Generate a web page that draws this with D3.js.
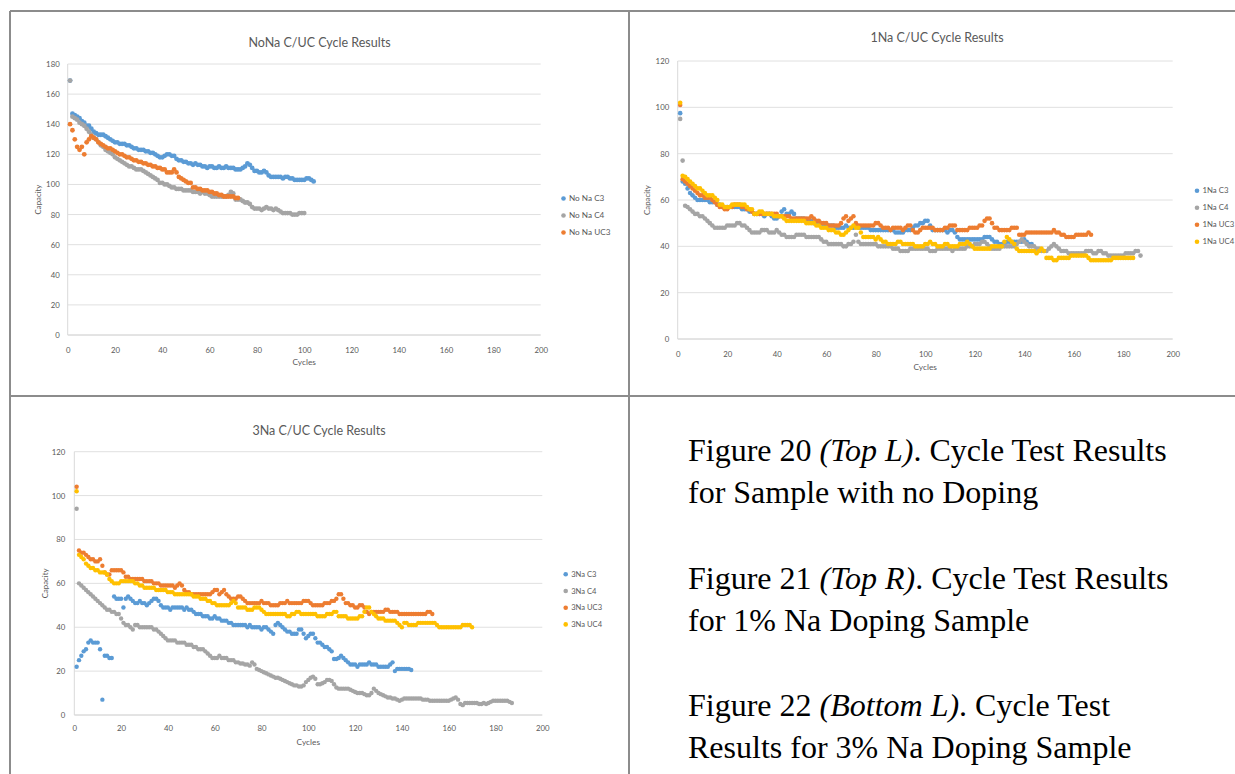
<!DOCTYPE html>
<html lang="en">
<head>
<meta charset="UTF-8">
<title>Cycle Test Results</title>
<script src="https://d3js.org/d3.v7.min.js"></script>
<style>
  body { margin: 0; background: #fff; }
  svg { display: block; }
  .ct { font-family: Lato, "Open Sans", sans-serif; fill: #595959; }
  .caption { font-family: "Liberation Serif", "Times New Roman", serif; font-size: 32px; fill: #000; }
</style>
</head>
<body>
<script>
// tick labels
var cycleTicks = [0, 20, 40, 60, 80, 100, 120, 140, 160, 180, 200]
var noNaTicks = [0, 20, 40, 60, 80, 100, 120, 140, 160, 180]
var naTicks = [0, 20, 40, 60, 80, 100, 120]

// capacity per cycle, cycle 1 first
var noNaC3 = [169,147,146,145,144,142,141,139,139,137,135,134,133,133,133,132,131,130,129,128,128,127,127,127,126,126,125,124,124,123,
  123,123,122,122,121,121,120,119,118,118,119,120,120,119,119,117,116,116,115,115,114,114,113,114,113,113,112,112,111,112,
  112,111,111,112,111,111,112,111,111,111,110,110,110,111,112,114,113,111,109,109,108,108,109,108,106,105,105,105,105,105,
  104,105,105,104,104,103,103,103,103,103,104,104,103,102]
var noNaC4 = [169,145,144,143,141,140,139,137,135,133,131,130,128,126,125,123,122,121,120,118,117,116,115,114,113,112,112,111,110,110,
  110,109,108,107,106,105,104,103,101,101,100,100,99,98,98,97,97,97,96,96,96,96,95,95,95,94,95,94,94,93,
  92,92,92,92,92,92,92,93,95,94,90,90,90,89,88,88,87,85,84,84,84,83,84,85,84,84,83,84,83,82,
  81,81,81,81,80,80,80,81,81,81]
var noNaUC3 = [140,136,130,125,123,125,120,128,130,132,131,130,128,127,126,125,124,124,123,122,121,120,120,119,118,118,117,116,116,115,
  115,114,114,113,113,112,112,111,111,110,110,108,108,108,110,108,105,104,103,102,101,101,98,98,97,97,96,96,96,95,
  95,94,94,93,93,92,92,92,92,92,91,91]

var oneNaC3 = [97.5,68,67,65,63,62,61,60,60,60,60,60,59,59,59,58,58,57,57,57,57,57,57,57,57,56,56,56,55,55,
  54,54,54,54,53,54,54,53,52,52,53,55,56,54,54,55,54,52,52,52,52,51,51,51,50,50,50,50,49,49,
  49,49,49,48,48,48,48,49,48,48,48,49,48,48,48,48,48,47,47,47,47,47,47,47,47,47,47,46,46,46,
  46,47,47,47,48,49,49,50,50,51,51,49,47,47,47,47,47,47,46,47,47,46,44,43,43,43,43,43,43,43,
  43,43,43,44,44,44,43,42,42,41,41,41,42,42,42,42,42,42,42,43,42,41,41]
var oneNaC4 = [95,77,57.5,57,56,55,54,54,53,53,52,51,50,49,48,48,48,48,48,49,49,49,49,50,50,49,49,48,47,46,
  46,46,46,47,47,47,46,46,46,47,46,45,45,44,44,44,44,45,45,45,45,44,44,44,44,44,44,43,42,42,
  41,41,41,41,41,41,40,40,41,41,42,45,42,41,41,41,41,41,41,41,40,40,40,40,40,40,39,39,39,38,
  38,38,38,39,39,39,39,39,39,39,39,38,38,38,39,39,39,39,39,39,38,39,39,39,39,39,40,40,40,41,
  41,41,42,42,41,40,39,39,39,39,40,40,40,40,40,40,41,42,43,42,41,40,40,40,39,39,38,38,38,39,
  40,41,40,39,38,38,38,37,37,37,37,37,37,37,38,38,38,37,37,38,38,37,37,36,36,36,36,36,36,36,
  37,37,37,37,38,38,36]
var oneNaUC3 = [101,69,68,67,66,65,64,63,62,62,61,61,61,60,59,58,57,57,56,56,57,57,58,58,58,57,57,56,56,55,
  54,54,54,54,54,54,54,54,54,54,53,53,53,53,53,52,52,52,52,52,52,52,52,53,52,51,51,50,50,50,
  49,49,49,49,49,50,52,53,51,52,53,50,49,49,49,49,49,49,49,50,50,49,48,48,48,47,48,48,48,48,
  47,48,49,49,47,46,46,47,48,48,48,48,48,47,47,47,47,48,48,49,49,49,47,47,47,47,47,48,48,48,
  48,49,49,51,52,52,50,48,48,47,47,47,47,47,48,48,48,45,45,45,46,46,46,46,46,46,46,46,46,46,
  46,47,46,46,45,45,44,44,44,44,45,45,45,45,45,46,45]
var oneNaUC4 = [102,70.5,70,69,68,67,66,65,65,64,63,62,62,62,61,60,58,58,57,57,57,58,58,58,58,58,58,57,56,56,
  54,54,55,55,54,54,54,54,53,53,53,53,52,51,51,51,51,51,51,51,51,50,50,50,50,49,49,48,48,48,
  47,47,47,46,46,45,45,46,47,48,49,48,48,46,44,44,44,44,44,43,44,43,42,42,41,41,41,41,42,42,
  41,41,41,41,41,40,40,40,40,41,41,42,41,41,40,40,40,41,41,40,40,40,40,41,41,41,42,41,40,39,
  39,39,39,39,39,39,40,40,40,40,40,42,44,43,42,41,39,38,38,38,38,38,38,38,37,38,39,38,35,35,
  35,34,34,35,35,35,35,35,36,36,36,36,36,36,36,35,34,34,34,34,34,34,34,34,34,35,35,35,35,35,
  35,35,35,35]

var threeNaC3 = [22,25,27,29,30,33,34,33,33,33,30,7,27,27,26,26,54,53,53,53,49,53,54,53,52,51,51,52,51,51,
  50,51,52,53,53,52,50,49,49,49,48,49,49,49,49,49,48,49,48,48,47,46,46,46,45,45,45,44,44,45,
  44,44,43,43,43,42,42,41,41,41,41,41,41,40,41,40,40,40,40,39,40,40,39,38,37,41,42,41,40,39,
  38,38,37,37,37,39,39,37,35,36,37,37,35,33,33,32,31,31,30,29,25.5,25.5,26,27,26,25,24,23,23,23,
  22,23,23,23,23,24,23,23,23,22,22,22,22,22,23,24,20,21,21,21,21,21,21,20.5]
var threeNaC4 = [94,60,59,58,57,56,55,54,53,52,51,50,49,48,48,47,47,46,46,44,42,41,41,40,39,41,41,40,40,40,
  40,40,40,39,39,38,37,36,35,34,34,34,34,33,33,33,33,32,32,32,31,31,30,30,30,29,28,27,26,26,
  26,27,26,26,26,25,25,25,24,24,23.5,23.5,23,23,22.5,24,23,21,20.5,20,19.5,19,18.5,18,17.5,17,17,16.5,16,15.5,
  15,14.5,14,13.5,13.5,13,13,13.5,15,16,17,17.5,16.5,14,14,14.5,15,16,16,15.5,14,12.5,12,12,12,12,12,11.5,11,10.5,
  10,10,10,9.5,9,9,10,12,11,10,9.5,9,8.5,8,8,7.5,7.5,7,6.5,7,7.5,7.5,7.5,7.5,7.5,7.5,7.5,7.5,7,7,
  7,6.5,6.5,6.5,6.5,6.5,6.5,6.5,6.5,6.5,7,7.5,8,7,5,4.5,5.5,5.5,5.5,5.5,5.5,5.5,5,5,5.5,5,5.5,6,6.5,6.5,
  6.5,6.5,6.5,6.5,6.5,6,5.5]
var threeNaUC3 = [104,75,74,74,73,72,71,71,70,70,71,68,65,64,64,66,66,66,66,66,65,63,63,62,62,62,62,62,62,61,
  61,61,61,60,60,60,59,59,59,59,59,59,58,59,60,59,57,56,56,55,55,55,55,55,55,55,55,55,56,57,
  57,55,56,57,55,54,53,53,53,54,54,53,52,51,51,51,51,51,51,52,51,51,51,50,50,50,50,51,51,51,
  52,51,51,51,51,51,51,52,52,52,51,50,50,50,50,50,51,51,51,52,52,53,55,55,53,51,51,50,50,49,
  49,50,50,49,47,46,47,47,47,47,47,47,48,48,47,47,47,47,46,46,46,46,46,46,46,46,46,46,46,46,
  47,47,46]
var threeNaUC4 = [102,73,72,71,69,68,67,67,66,66,65,65,65,64,62,61,60,60,60,61,61,61,61,61,61,60,60,59,59,58,
  58,58,58,58,57,57,57,57,57,56,56,56,55,55,55,55,55,55,55,55,54,54,54,53,53,53,52,52,51,51,
  50,50,50,50,50,50,51,52,51,49,49,49,49,48,48,48,49,49,49,48,47,46,46,46,46,46,46,46,46,46,
  45,45,46,46,47,47,46,46,46,46,46,46,46,45,45,45,45,46,46,46,47,47,45,45,45,45,44,44,44,44,
  44,45,45,47,49,49,47,46,45,44,44,44,43,43,43,43,43,42,41,40,42,42,41,41,41,41,42,42,42,42,
  42,42,42,42,41,40,40,40,40,40,40,40,40,40,40,41,41,41,41,40]

var noNaNames = ["No Na C3", "No Na C4", "No Na UC3"]
var oneNaNames = ["1Na C3", "1Na C4", "1Na UC3", "1Na UC4"]
var threeNaNames = ["3Na C3", "3Na C4", "3Na UC3", "3Na UC4"]
var seriesColors = ["#5B9BD5", "#A5A5A5", "#ED7D31", "#FFC000"]

const W = 1235, H = 774
const svg = d3.select("body").append("svg").attr("width", W).attr("height", H)
svg.append("rect").attr("width", W).attr("height", H).attr("fill", "#fff")

// table frame
var frame = svg.append("g").attr("stroke", "#8c8c8c").attr("stroke-width", 2).attr("fill", "none")
frame.append("line").attr("x1", 10).attr("x2", W + 5).attr("y1", 11).attr("y2", 11)
frame.append("line").attr("x1", 10).attr("x2", 10).attr("y1", 11).attr("y2", H + 5)
frame.append("line").attr("x1", 629).attr("x2", 629).attr("y1", 11).attr("y2", H + 5)
frame.append("line").attr("x1", 10).attr("x2", W + 5).attr("y1", 396).attr("y2", 396)

function drawChart(cfg) {
    var x = d3.scaleLinear().domain([0, 200]).range([cfg.x0, cfg.x1])
    var y = d3.scaleLinear().domain([0, cfg.yMax]).range([cfg.yBot, cfg.yTop])
    var g = svg.append("g")

    g.append("text").attr("class", "ct")
        .attr("x", cfg.titleX).attr("y", cfg.titleY)
        .attr("text-anchor", "middle").attr("font-size", 12.5)
        .text(cfg.title)

    // gridlines
    g.selectAll(".grid").data(cfg.yTicks).enter().append("line")
        .attr("x1", cfg.x0).attr("x2", cfg.x1)
        .attr("y1", d => y(d)).attr("y2", d => y(d))
        .attr("stroke", d => d === 0 ? "#c8c8c8" : "#e0e0e0").attr("stroke-width", 1)
    g.append("line").attr("x1", cfg.x0).attr("x2", cfg.x0)
        .attr("y1", cfg.yTop).attr("y2", cfg.yBot).attr("stroke", "#d9d9d9")

    var yAxis = d3.axisLeft(y).tickValues(cfg.yTicks).tickSize(0).tickPadding(cfg.yPad)
    var ya = g.append("g").attr("transform", "translate(" + cfg.x0 + ",0)").call(yAxis)
    var xAxis = d3.axisBottom(x).tickValues(cycleTicks).tickSize(0).tickPadding(cfg.xPad)
    var xa = g.append("g").attr("transform", "translate(0," + cfg.yBot + ")").call(xAxis)
    ;[ya, xa].forEach(function (a) {
        a.select(".domain").remove()
        a.selectAll("text").attr("class", "ct").attr("font-size", 7.8).attr("fill", "#595959")
            .style("font-family", "Lato, 'Open Sans', sans-serif")
    })

    g.append("text").attr("class", "ct")
        .attr("x", (cfg.x0 + cfg.x1) / 2).attr("y", cfg.cyclesY)
        .attr("text-anchor", "middle").attr("font-size", 8.3).text("Cycles")
    g.append("text").attr("class", "ct")
        .attr("transform", "translate(" + cfg.capX + "," + (cfg.yTop + cfg.yBot) / 2 + ") rotate(-90)")
        .attr("text-anchor", "middle").attr("font-size", 7.8).text("Capacity")

    cfg.series.forEach(function (s, k) {
        g.append("g").selectAll("circle").data(s).enter().append("circle")
            .attr("cx", (d, i) => x(i + 1))
            .attr("cy", d => y(d))
            .attr("r", cfg.r)
            .attr("fill", seriesColors[k])
    })

    var leg = g.append("g")
    cfg.names.forEach(function (n, k) {
        var ly = cfg.legY + k * cfg.legStep
        leg.append("circle").attr("cx", cfg.legX).attr("cy", ly).attr("r", 2.3).attr("fill", seriesColors[k])
        leg.append("text").attr("class", "ct").attr("x", cfg.legX + 5.5).attr("y", ly + 2.7)
            .attr("font-size", cfg.legFont).text(n)
    })
}

drawChart({
    title: "NoNa C/UC Cycle Results", titleX: 319.5, titleY: 47,
    x0: 67.7, x1: 540.7, yTop: 64, yBot: 335, yMax: 180, yTicks: noNaTicks,
    yPad: 8, xPad: 12, cyclesY: 365, capX: 41, r: 2.4,
    series: [noNaC3, noNaC4, noNaUC3], names: noNaNames,
    legX: 563.5, legY: 198.5, legStep: 17, legFont: 8.2
})
drawChart({
    title: "1Na C/UC Cycle Results", titleX: 937, titleY: 42,
    x0: 677.7, x1: 1172.7, yTop: 61, yBot: 339, yMax: 120, yTicks: naTicks,
    yPad: 8.5, xPad: 12, cyclesY: 370, capX: 650, r: 2.3,
    series: [oneNaC3, oneNaC4, oneNaUC3, oneNaUC4], names: oneNaNames,
    legX: 1197, legY: 190.7, legStep: 17, legFont: 7.8
})
drawChart({
    title: "3Na C/UC Cycle Results", titleX: 319, titleY: 435,
    x0: 74.3, x1: 542.3, yTop: 451.7, yBot: 715, yMax: 120, yTicks: naTicks,
    yPad: 9, xPad: 10, cyclesY: 745, capX: 48, r: 2.2,
    series: [threeNaC3, threeNaC4, threeNaUC3, threeNaUC4], names: threeNaNames,
    legX: 565.7, legY: 574.3, legStep: 16.7, legFont: 7.6
})

// captions
var captions = [
    { y: 461, parts: [["Figure 20 ", false], ["(Top L)", true], [". Cycle Test Results", false]] },
    { y: 503, parts: [["for Sample with no Doping", false]] },
    { y: 589, parts: [["Figure 21 ", false], ["(Top R)", true], [". Cycle Test Results", false]] },
    { y: 631, parts: [["for 1% Na Doping Sample", false]] },
    { y: 716, parts: [["Figure 22 ", false], ["(Bottom L)", true], [". Cycle Test", false]] },
    { y: 758, parts: [["Results for 3% Na Doping Sample", false]] }
]
captions.forEach(function (c) {
    var t = svg.append("text").attr("class", "caption").attr("x", 688).attr("y", c.y)
    c.parts.forEach(function (p) {
        t.append("tspan").attr("font-style", p[1] ? "italic" : "normal").text(p[0])
    })
})
</script>
</body>
</html>
